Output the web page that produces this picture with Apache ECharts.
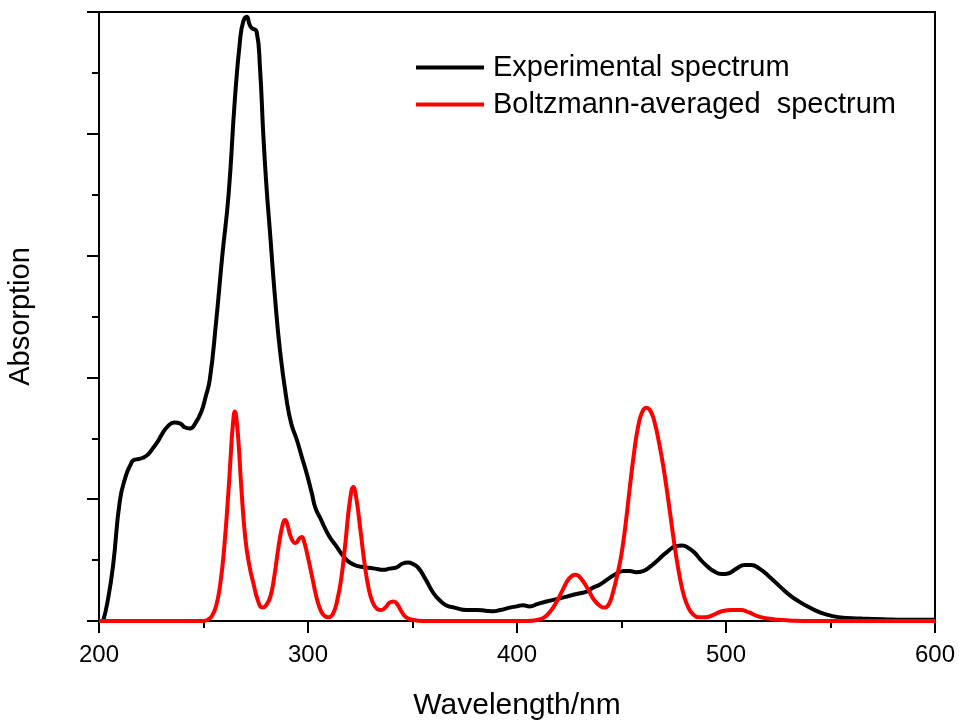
<!DOCTYPE html>
<html>
<head>
<meta charset="utf-8">
<script src="https://cdn.jsdelivr.net/npm/echarts@6/dist/echarts.min.js"></script>
<style>
  html, body { margin: 0; padding: 0; background: #fff; }
  #chart { width: 959px; height: 720px; }
</style>
</head>
<body>
<div id="chart"></div>
<script>
// Experimental UV-Vis absorption spectrum (wavelength in nm, arbitrary absorption units)
const expWavelength = [202, 204, 206.7, 210, 213, 215, 216.5, 219, 221, 223, 225, 228, 230, 233, 236, 239, 241, 243.5, 246, 249, 251, 253, 256, 259, 262, 265, 267.5, 269, 270.7, 272, 273, 275.4, 277, 278.6, 280, 282, 284, 286.6, 289.8, 292, 294.6, 297, 299.4, 301.8, 303.5, 305.7, 310, 313.7, 317, 320, 324, 328, 332, 336, 339, 342.4, 345, 348, 350, 352.6, 356, 360, 363, 366, 370, 376, 380.7, 385, 388.5, 392, 396.6, 400, 403, 406, 410, 414, 419, 423.8, 428, 433, 436, 439.7, 444, 447.7, 451, 454, 457, 460.3, 464, 468, 472, 476, 479, 482, 485, 488, 491, 494, 498, 501, 505, 509, 512, 516, 521, 526, 530.6, 534, 540, 545, 551, 558, 565, 575, 585, 600];
const expAbsorption = [0, 0.15, 0.45, 0.99, 1.2, 1.28, 1.32, 1.33, 1.34, 1.36, 1.4, 1.47, 1.53, 1.6, 1.63, 1.62, 1.59, 1.58, 1.62, 1.72, 1.84, 1.98, 2.45, 3.0, 3.5, 4.28, 4.77, 4.92, 4.96, 4.9, 4.87, 4.84, 4.55, 4.0, 3.6, 3.15, 2.7, 2.22, 1.81, 1.62, 1.49, 1.35, 1.21, 1.05, 0.93, 0.85, 0.7, 0.61, 0.53, 0.48, 0.45, 0.44, 0.43, 0.42, 0.43, 0.44, 0.47, 0.48, 0.47, 0.44, 0.35, 0.23, 0.17, 0.13, 0.11, 0.09, 0.09, 0.085, 0.08, 0.09, 0.11, 0.12, 0.13, 0.12, 0.14, 0.16, 0.18, 0.2, 0.22, 0.24, 0.27, 0.3, 0.35, 0.39, 0.41, 0.41, 0.4, 0.41, 0.45, 0.51, 0.57, 0.615, 0.62, 0.6, 0.56, 0.5, 0.45, 0.41, 0.385, 0.39, 0.43, 0.46, 0.46, 0.43, 0.36, 0.28, 0.21, 0.17, 0.11, 0.07, 0.04, 0.025, 0.02, 0.015, 0.01, 0.01];

// Boltzmann-averaged computed spectrum
const calcWavelength = [200, 250, 252, 254, 256, 258, 260, 262, 263, 264, 265, 266, 267, 268, 270, 272, 274, 276, 278, 280, 282, 284, 286, 288, 289, 290, 292, 294, 296, 297, 298, 300, 302, 304, 306, 308, 310, 312, 314, 316, 318, 320, 321.7, 323, 325, 327, 329, 331, 333, 335, 337, 339, 341, 343, 345, 347, 350, 355, 405, 410, 413, 416, 419, 422, 425, 428, 431, 434, 437, 440, 442, 444, 446, 448, 450, 452, 454, 456, 458, 460, 462, 464, 466, 468, 470, 472, 474, 476, 478, 480, 482, 484, 487, 490, 494, 498, 503, 507, 511, 515, 520, 525, 530, 540, 600];
const calcAbsorption = [0, 0, 0.01, 0.04, 0.12, 0.3, 0.62, 1.08, 1.35, 1.6, 1.72, 1.62, 1.4, 1.12, 0.68, 0.45, 0.3, 0.17, 0.11, 0.13, 0.2, 0.38, 0.62, 0.8, 0.83, 0.8, 0.68, 0.64, 0.68, 0.69, 0.66, 0.52, 0.36, 0.2, 0.09, 0.04, 0.03, 0.06, 0.17, 0.36, 0.66, 0.98, 1.1, 1.02, 0.76, 0.48, 0.27, 0.15, 0.1, 0.09, 0.11, 0.15, 0.16, 0.13, 0.07, 0.03, 0.01, 0, 0, 0.01, 0.03, 0.08, 0.16, 0.26, 0.35, 0.38, 0.34, 0.26, 0.17, 0.12, 0.11, 0.14, 0.24, 0.38, 0.55, 0.8, 1.1, 1.38, 1.6, 1.72, 1.75, 1.72, 1.62, 1.46, 1.27, 1.04, 0.79, 0.55, 0.35, 0.2, 0.11, 0.06, 0.03, 0.03, 0.05, 0.08, 0.09, 0.09, 0.07, 0.04, 0.02, 0.01, 0.005, 0, 0];

const seriesNames = ['Experimental spectrum', 'Boltzmann-averaged  spectrum'];
const seriesColors = ['#000000', '#ff0000'];

const pairs = (xs, ys) => xs.map((x, i) => [x, ys[i]]);

const chart = echarts.init(document.getElementById('chart'), null, { renderer: 'canvas' });

const fontFamily = 'Liberation Sans, Arial, sans-serif';

chart.setOption({
  animation: false,
  backgroundColor: '#ffffff',
  grid: {
    left: 99, right: 24, top: 12, bottom: 99,
    outerBoundsMode: 'none',
    show: true, borderColor: '#000', borderWidth: 2, backgroundColor: 'transparent'
  },
  legend: {
    orient: 'vertical',
    left: 411, top: 48,
    itemWidth: 68, itemHeight: 4, itemGap: 8,
    icon: 'rect',
    textStyle: { fontFamily, fontSize: 29, color: '#000', padding: [0, 0, 0, 4] },
    data: seriesNames
  },
  xAxis: {
    type: 'value',
    min: 200, max: 600, interval: 100,
    name: 'Wavelength/nm',
    nameLocation: 'middle', nameGap: 70,
    nameTextStyle: { fontFamily, fontSize: 30, color: '#000' },
    axisLine: { show: true, lineStyle: { color: '#000', width: 2 } },
    axisTick: { show: true, inside: false, length: 12, lineStyle: { color: '#000', width: 2 } },
    minorTick: { show: true, splitNumber: 2, length: 7, lineStyle: { color: '#000', width: 2 } },
    axisLabel: { fontFamily, fontSize: 24, color: '#000', margin: 22 },
    splitLine: { show: false }
  },
  yAxis: {
    type: 'value',
    min: 0, max: 5, interval: 1,
    name: 'Absorption',
    nameLocation: 'middle', nameGap: 64,
    nameTextStyle: { fontFamily, fontSize: 29, color: '#000' },
    axisLine: { show: true, lineStyle: { color: '#000', width: 2 } },
    axisTick: { show: true, inside: false, length: 12, lineStyle: { color: '#000', width: 2 } },
    minorTick: { show: true, splitNumber: 2, length: 7, lineStyle: { color: '#000', width: 2 } },
    axisLabel: { show: false },
    splitLine: { show: false }
  },
  series: [
    {
      name: seriesNames[0], type: 'line',
      data: pairs(expWavelength, expAbsorption),
      showSymbol: false, smooth: 0.5,
      color: seriesColors[0],
      lineStyle: { color: seriesColors[0], width: 4 },
      z: 2
    },
    {
      name: seriesNames[1], type: 'line',
      data: pairs(calcWavelength, calcAbsorption),
      showSymbol: false, smooth: 0.5,
      color: seriesColors[1],
      lineStyle: { color: seriesColors[1], width: 4 },
      z: 3
    }
  ]
});
</script>
</body>
</html>
